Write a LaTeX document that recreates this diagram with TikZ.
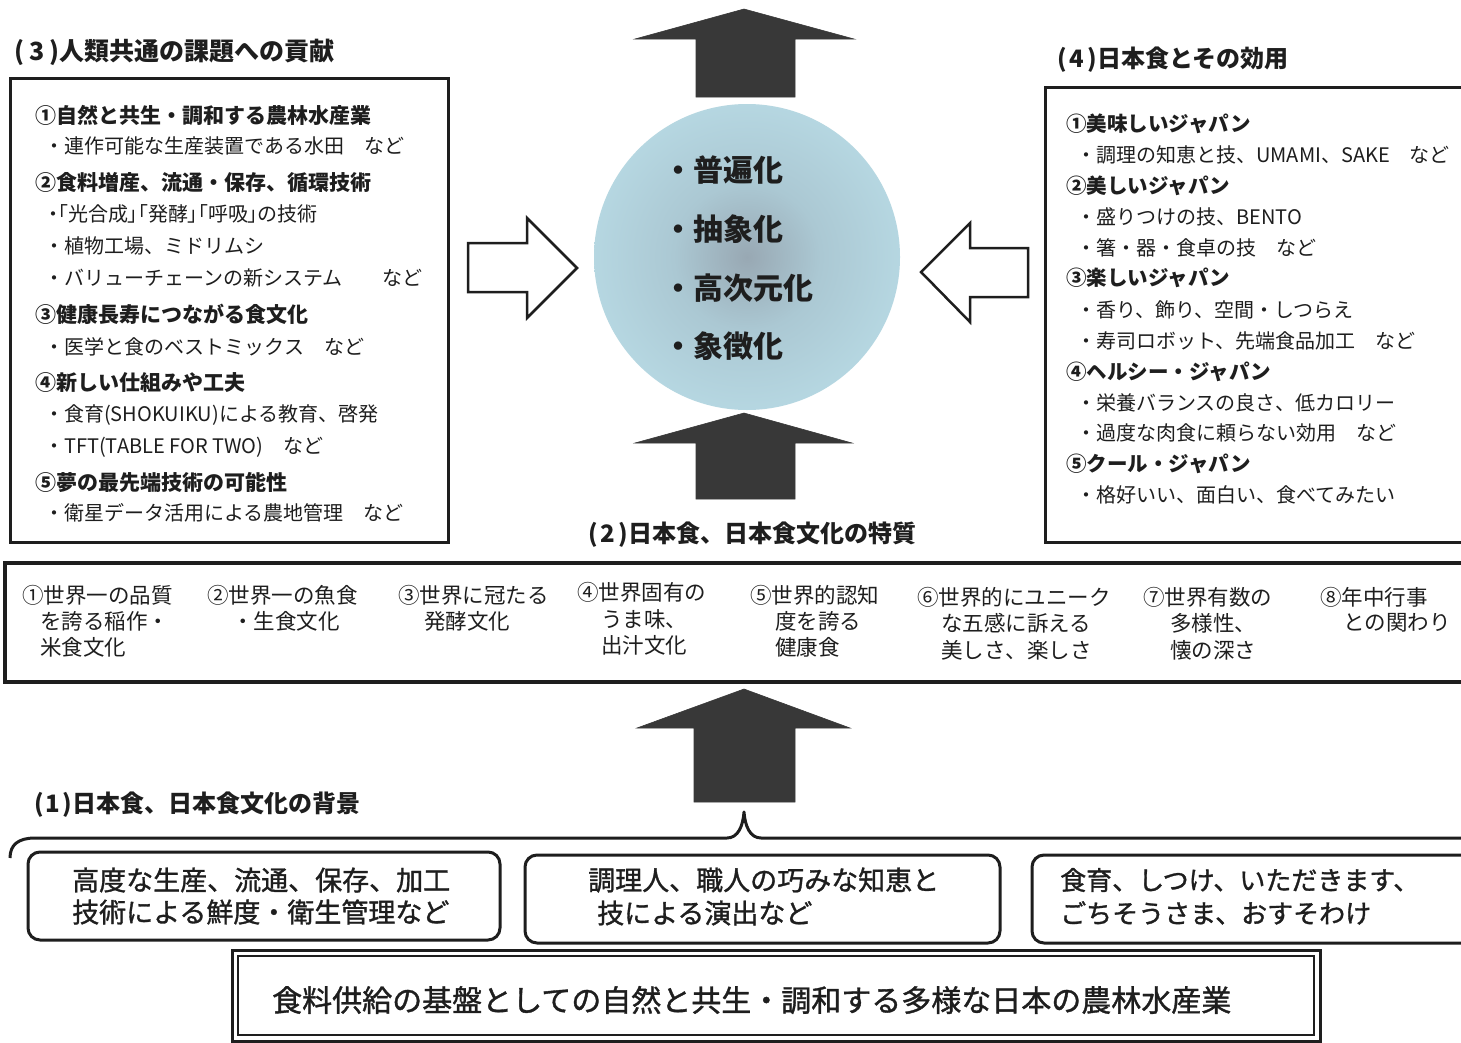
\documentclass[tikz,border=0pt]{standalone}
\usepackage{fontspec}
\setmainfont{Noto Sans CJK JP}
\newfontfamily\heavyjp[FakeBold=1.2]{Noto Sans CJK JP}
\newfontfamily\paltjp[RawFeature=+palt]{Noto Sans CJK JP}
\definecolor{ink}{HTML}{1E1E1E}
\definecolor{arrowfill}{HTML}{383838}
\definecolor{ballin}{HTML}{98A8B3}
\definecolor{ballmid}{HTML}{ABC8D3}
\definecolor{ballout}{HTML}{BDE1EB}
\pgfdeclareradialshading{ballshade}{\pgfpoint{0bp}{0bp}}{color(0bp)=(ballin); color(12bp)=(ballmid); color(34bp)=(ballout); color(50bp)=(ballout)}
\tikzset{
  frame/.style={draw=ink, line width=3pt, line join=miter},
  txt/.style={anchor=west, inner sep=0pt, text=ink},
  lhd/.style={txt, font=\bfseries\fontsize{21}{25}\selectfont},
  lsb/.style={txt, font=\fontsize{20}{24}\selectfont},
  rhd/.style={txt, font=\bfseries\fontsize{20.5}{24}\selectfont},
  rsb/.style={txt, font=\fontsize{20}{24}\selectfont},
  balltxt/.style={txt, font=\bfseries\fontsize{30}{34}\selectfont},
  midtxt/.style={txt, font=\fontsize{21.5}{25}\selectfont},
  ttl/.style={txt, font=\bfseries\fontsize{24}{28}\selectfont},
  bgtxt/.style={txt, font=\heavyjp\fontsize{27}{31}\selectfont},
  basetxt/.style={txt, font=\heavyjp\fontsize{30}{34}\selectfont},
  solidarrow/.style={fill=arrowfill, draw=arrowfill, line width=0.6pt, line join=miter},
  hollowarrow/.style={fill=white, draw=ink, line width=2.5pt, line join=miter},
}
\begin{document}
\begin{tikzpicture}[x=1pt,y=-1pt]
\useasboundingbox[fill=white] (0,0) rectangle (1461,1042);

% ---- central ball ----
\shade[shading=ballshade] (747,257) circle[radius=153pt];
\node[balltxt] (c1) at (663,170) {・普遍化};
\node[balltxt] (c2) at (663,229) {・抽象化};
\node[balltxt] (c3) at (663,288) {・高次元化};
\node[balltxt] (c4) at (663,346) {・象徴化};

% ---- solid arrows ----
\filldraw[solidarrow] (696,97) -- (696,39) -- (635,39) -- (744,9) -- (854,39) -- (795,39) -- (795,97) -- cycle;
\filldraw[solidarrow] (696,499) -- (696,443) -- (635,443) -- (744,413) -- (852,443) -- (795,443) -- (795,499) -- cycle;
\filldraw[solidarrow] (694,802) -- (694,728) -- (637,728) -- (744,689) -- (850,728) -- (795,728) -- (795,802) -- cycle;

% ---- hollow arrows ----
\filldraw[hollowarrow] (468,243) -- (527,243) -- (527,218) -- (577,268) -- (527,318) -- (527,292) -- (468,292) -- cycle;
\filldraw[hollowarrow] (1028,248) -- (970,248) -- (970,223) -- (921,272) -- (970,322) -- (970,297) -- (1028,297) -- cycle;

% ---- left box (3) ----
\node[ttl, font=\bfseries\fontsize{25}{29}\selectfont] (t3) at (14,52) {(\hspace{5pt}3\hspace{5pt})人類共通の課題への貢献};
\draw[frame] (10,78) rectangle (448,542);
\node[lhd] (l1) at (35,115) {①自然と共生・調和する農林水産業};
\node[lsb] (l2) at (44,146) {・連作可能な生産装置である水田　など};
\node[lhd] (l3) at (35,182) {②食料増産、流通・保存、循環技術};
\node[lsb, font=\paltjp\fontsize{20}{24}\selectfont] (l4) at (48,214) {・「光合成」「発酵」「呼吸」の技術};
\node[lsb] (l5) at (44,246) {・植物工場、ミドリムシ};
\node[lsb] (l6) at (44,278) {・バリューチェーンの新システム　　など};
\node[lhd] (l7) at (35,314) {③健康長寿につながる食文化};
\node[lsb] (l8) at (44,347) {・医学と食のベストミックス　など};
\node[lhd] (l9) at (35,383) {④新しい仕組みや工夫};
\node[lsb] (l10) at (44,415) {・食育(SHOKUIKU)による教育、啓発};
\node[lsb] (l11) at (44,447) {・TFT(TABLE FOR TWO)　など};
\node[lhd] (l12) at (35,482) {⑤夢の最先端技術の可能性};
\node[lsb] (l13) at (44,513) {・衛星データ活用による農地管理　など};

% ---- right box (4) ----
\node[ttl] (t4) at (1057,60) {(\hspace{3pt}4\hspace{3pt})日本食とその効用};
\draw[frame] (1461,87) -- (1045,87) -- (1045,542) -- (1461,542);
\node[rhd] (r1) at (1066,124) {①美味しいジャパン};
\node[rsb] (r2) at (1076,155) {・調理の知恵と技、UMAMI、SAKE　など};
\node[rhd] (r3) at (1066,186) {②美しいジャパン};
\node[rsb] (r4) at (1076,217) {・盛りつけの技、BENTO};
\node[rsb] (r5) at (1076,248) {・箸・器・食卓の技　など};
\node[rhd] (r6) at (1066,278) {③楽しいジャパン};
\node[rsb] (r7) at (1076,310) {・香り、飾り、空間・しつらえ};
\node[rsb] (r8) at (1076,341) {・寿司ロボット、先端食品加工　など};
\node[rhd] (r9) at (1066,372) {④ヘルシー・ジャパン};
\node[rsb] (r10) at (1076,403) {・栄養バランスの良さ、低カロリー};
\node[rsb] (r11) at (1076,433) {・過度な肉食に頼らない効用　など};
\node[rhd] (r12) at (1066,464) {⑤クール・ジャパン};
\node[rsb] (r13) at (1076,495) {・格好いい、面白い、食べてみたい};

% ---- (2) title and row ----
\node[ttl] (t2) at (588,535) {(\hspace{3pt}2\hspace{3pt})日本食、日本食文化の特質};
\draw[frame, line width=3.5pt] (1461,563) -- (5,563) -- (5,682) -- (1461,682);
\node[midtxt] (m1a) at (22,595) {①世界一の品質};
\node[midtxt] (m1b) at (40,621) {を誇る稲作・};
\node[midtxt] (m1c) at (40,647) {米食文化};
\node[midtxt] (m2a) at (207,595) {②世界一の魚食};
\node[midtxt] (m2b) at (232,621) {・生食文化};
\node[midtxt] (m3a) at (398,595) {③世界に冠たる};
\node[midtxt] (m3b) at (424,621) {発酵文化};
\node[midtxt] (m4a) at (577,592) {④世界固有の};
\node[midtxt] (m4b) at (601,619) {うま味、};
\node[midtxt] (m4c) at (601,645) {出汁文化};
\node[midtxt] (m5a) at (750,595) {⑤世界的認知};
\node[midtxt] (m5b) at (775,621) {度を誇る};
\node[midtxt] (m5c) at (775,647) {健康食};
\node[midtxt] (m6a) at (917,597) {⑥世界的にユニーク};
\node[midtxt] (m6b) at (941,623) {な五感に訴える};
\node[midtxt] (m6c) at (941,650) {美しさ、楽しさ};
\node[midtxt] (m7a) at (1143,597) {⑦世界有数の};
\node[midtxt] (m7b) at (1170,623) {多様性、};
\node[midtxt] (m7c) at (1170,650) {懐の深さ};
\node[midtxt] (m8a) at (1320,597) {⑧年中行事};
\node[midtxt] (m8b) at (1343,623) {との関わり};

% ---- (1) background ----
\node[ttl] (t1) at (34,805) {(\hspace{2pt}1\hspace{2pt})日本食、日本食文化の背景};
\draw[frame, line join=round] (10,858) .. controls (10,845) and (18,838) .. (35,838) -- (727,838)
  .. controls (738,838) and (743,826) .. (744,812)
  .. controls (745,826) and (750,838) .. (761,838) -- (1461,838);
\draw[frame, rounded corners=12pt] (28,852) rectangle (500,940);
\draw[frame, rounded corners=12pt] (525,855) rectangle (1000,943);
\draw[frame, rounded corners=12pt] (1465,855) -- (1032,855) -- (1032,943) -- (1465,943);
\node[bgtxt] (b1a) at (72,880) {高度な生産、流通、保存、加工};
\node[bgtxt] (b1b) at (72,912) {技術による鮮度・衛生管理など};
\node[bgtxt] (b2a) at (588,880) {調理人、職人の巧みな知恵と};
\node[bgtxt] (b2b) at (597,913) {技による演出など};
\node[bgtxt, font=\heavyjp\fontsize{26}{30}\selectfont] (b3a) at (1060,880) {食育、しつけ、いただきます、};
\node[bgtxt, font=\heavyjp\fontsize{26}{30}\selectfont] (b3b) at (1060,913) {ごちそうさま、おすそわけ};

% ---- base box ----
\draw[frame] (232,950) rectangle (1320,1041);
\draw[draw=ink, line width=1.2pt] (238,956) rectangle (1314,1035);
\node[basetxt] (bt) at (272,1000) {食料供給の基盤としての自然と共生・調和する多様な日本の農林水産業};
\end{tikzpicture}
\end{document}
